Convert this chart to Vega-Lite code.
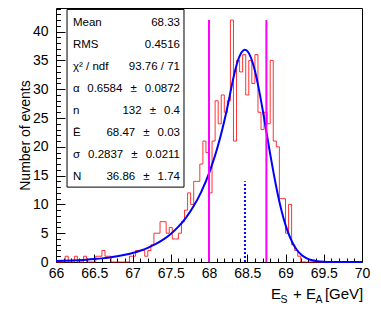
{
  "$schema": "https://vega.github.io/schema/vega-lite/v6.json",
  "width": 306,
  "height": 254,
  "autosize": {"type": "none"},
  "padding": {"left": 56, "top": 8, "right": 19, "bottom": 58},
  "background": "white",
  "config": {
    "view": {"stroke": "black", "strokeWidth": 1},
    "font": "Liberation Sans",
    "axis": {"grid": false, "zindex": 1, "domain": false, "tickColor": "black", "tickWidth": 1, "labelColor": "black", "titleColor": "black", "labelFont": "Liberation Sans", "titleFont": "Liberation Sans", "labelFontSize": 14, "titleFontSize": 14, "titleFontWeight": "normal"}
  },
  "datasets": {
    "hist": [
      {"x": 66.00, "n": 0}, {"x": 66.04, "n": 0}, {"x": 66.08, "n": 0}, {"x": 66.12, "n": 1}, {"x": 66.16, "n": 0},
      {"x": 66.20, "n": 0}, {"x": 66.24, "n": 1}, {"x": 66.28, "n": 0}, {"x": 66.32, "n": 0}, {"x": 66.36, "n": 1},
      {"x": 66.40, "n": 0}, {"x": 66.44, "n": 0}, {"x": 66.48, "n": 0}, {"x": 66.52, "n": 1}, {"x": 66.56, "n": 1},
      {"x": 66.60, "n": 2}, {"x": 66.64, "n": 1}, {"x": 66.68, "n": 1}, {"x": 66.72, "n": 0}, {"x": 66.76, "n": 0},
      {"x": 66.80, "n": 0}, {"x": 66.84, "n": 0}, {"x": 66.88, "n": 0}, {"x": 66.92, "n": 0}, {"x": 66.96, "n": 1},
      {"x": 67.00, "n": 1}, {"x": 67.04, "n": 2}, {"x": 67.08, "n": 2}, {"x": 67.12, "n": 2}, {"x": 67.16, "n": 1},
      {"x": 67.20, "n": 2}, {"x": 67.24, "n": 3}, {"x": 67.28, "n": 5}, {"x": 67.32, "n": 5}, {"x": 67.36, "n": 7},
      {"x": 67.40, "n": 7}, {"x": 67.44, "n": 5}, {"x": 67.48, "n": 6}, {"x": 67.52, "n": 4}, {"x": 67.56, "n": 4},
      {"x": 67.60, "n": 5}, {"x": 67.64, "n": 7}, {"x": 67.68, "n": 9}, {"x": 67.72, "n": 12}, {"x": 67.76, "n": 10},
      {"x": 67.80, "n": 14}, {"x": 67.84, "n": 14}, {"x": 67.88, "n": 17}, {"x": 67.92, "n": 21}, {"x": 67.96, "n": 19},
      {"x": 68.00, "n": 12}, {"x": 68.04, "n": 21}, {"x": 68.08, "n": 28}, {"x": 68.12, "n": 24}, {"x": 68.16, "n": 29},
      {"x": 68.20, "n": 26}, {"x": 68.24, "n": 28}, {"x": 68.28, "n": 42}, {"x": 68.32, "n": 21}, {"x": 68.36, "n": 35},
      {"x": 68.40, "n": 33}, {"x": 68.44, "n": 36}, {"x": 68.48, "n": 29}, {"x": 68.52, "n": 35}, {"x": 68.56, "n": 31},
      {"x": 68.60, "n": 36}, {"x": 68.64, "n": 26}, {"x": 68.68, "n": 23}, {"x": 68.72, "n": 26}, {"x": 68.76, "n": 24},
      {"x": 68.80, "n": 35}, {"x": 68.84, "n": 21}, {"x": 68.88, "n": 20}, {"x": 68.92, "n": 11}, {"x": 68.96, "n": 11},
      {"x": 69.00, "n": 5}, {"x": 69.04, "n": 10}, {"x": 69.08, "n": 3}, {"x": 69.12, "n": 2}, {"x": 69.16, "n": 1},
      {"x": 69.20, "n": 0}, {"x": 69.24, "n": 0}, {"x": 69.28, "n": 0}, {"x": 69.32, "n": 0}, {"x": 69.36, "n": 0},
      {"x": 69.40, "n": 0}, {"x": 69.44, "n": 0}, {"x": 69.48, "n": 0}, {"x": 69.52, "n": 0}, {"x": 69.56, "n": 0},
      {"x": 69.60, "n": 0}, {"x": 69.64, "n": 0}, {"x": 69.68, "n": 0}, {"x": 69.72, "n": 0}, {"x": 69.76, "n": 0},
      {"x": 69.80, "n": 0}, {"x": 69.84, "n": 0}, {"x": 69.88, "n": 0}, {"x": 69.92, "n": 0}, {"x": 69.96, "n": 0},
      {"x": 70.00, "n": 0}
    ],
    "fit": [
      {"x": 66.0, "f": 0.164}, {"x": 66.1, "f": 0.206}, {"x": 66.2, "f": 0.257}, {"x": 66.3, "f": 0.322}, {"x": 66.4, "f": 0.40},
      {"x": 66.5, "f": 0.505}, {"x": 66.6, "f": 0.63}, {"x": 66.7, "f": 0.79}, {"x": 66.8, "f": 0.99}, {"x": 66.9, "f": 1.244},
      {"x": 67.0, "f": 1.56}, {"x": 67.1, "f": 1.96}, {"x": 67.2, "f": 2.46}, {"x": 67.3, "f": 3.09}, {"x": 67.4, "f": 3.88},
      {"x": 67.5, "f": 4.88}, {"x": 67.6, "f": 6.14}, {"x": 67.7, "f": 7.72}, {"x": 67.8, "f": 9.71}, {"x": 67.9, "f": 12.23},
      {"x": 68.0, "f": 15.40}, {"x": 68.05, "f": 17.29}, {"x": 68.1, "f": 19.41}, {"x": 68.15, "f": 21.79}, {"x": 68.2, "f": 24.47},
      {"x": 68.25, "f": 27.48}, {"x": 68.283, "f": 29.68}, {"x": 68.3, "f": 30.80}, {"x": 68.35, "f": 33.70}, {"x": 68.4, "f": 35.76},
      {"x": 68.45, "f": 36.77}, {"x": 68.47, "f": 36.86}, {"x": 68.5, "f": 36.65}, {"x": 68.55, "f": 35.42}, {"x": 68.6, "f": 33.19},
      {"x": 68.65, "f": 30.14}, {"x": 68.7, "f": 26.54}, {"x": 68.75, "f": 22.65}, {"x": 68.8, "f": 18.74}, {"x": 68.85, "f": 15.03},
      {"x": 68.9, "f": 11.69}, {"x": 68.95, "f": 8.81}, {"x": 69.0, "f": 6.44}, {"x": 69.05, "f": 4.56}, {"x": 69.1, "f": 3.13},
      {"x": 69.15, "f": 2.08}, {"x": 69.2, "f": 1.345}, {"x": 69.25, "f": 0.841}, {"x": 69.3, "f": 0.510}, {"x": 69.35, "f": 0.300},
      {"x": 69.4, "f": 0.171}, {"x": 69.45, "f": 0.095}, {"x": 69.5, "f": 0.051}, {"x": 69.6, "f": 0.013}, {"x": 69.7, "f": 0.003},
      {"x": 69.8, "f": 0.0005}, {"x": 70.0, "f": 0}
    ],
    "window": [{"x": 68.0}, {"x": 68.75}],
    "stats": [
      {"row": 0, "label": "Mean", "val": "68.33"},
      {"row": 1, "label": "RMS", "val": "0.4516"},
      {"row": 2, "label": "χ² / ndf", "val": "93.76 / 71"},
      {"row": 3, "label": "α", "val": "0.6584\u2002\u2009±\u2002\u20090.0872"},
      {"row": 4, "label": "n", "val": "132\u2002\u2009±\u2002\u20090.4"},
      {"row": 5, "label": "Ē", "val": "68.47\u2002\u2009±\u2002\u20090.03"},
      {"row": 6, "label": "σ", "val": "0.2837\u2002\u2009±\u2002\u20090.0211"},
      {"row": 7, "label": "N", "val": "36.86\u2002\u2009±\u2002\u20091.74"}
    ]
  },
  "layer": [
    {
      "resolve": {"axis": {"x": "independent", "y": "independent"}},
      "layer": [
        {
          "data": {"name": "hist"},
          "mark": {"type": "line", "interpolate": "step-after", "color": "#ff0000", "strokeWidth": 1, "opacity": 0.8},
          "encoding": {
            "x": {"field": "x", "type": "quantitative", "scale": {"domain": [66, 70], "nice": false, "zero": false},
              "axis": {"title": null, "orient": "bottom", "values": [66, 66.5, 67, 67.5, 68, 68.5, 69, 69.5, 70],
                "format": ".1~f", "offset": -8, "tickSize": 8, "labelPadding": 4, "labelFlush": false, "labelOverlap": false}},
            "y": {"field": "n", "type": "quantitative", "scale": {"domain": [0, 44.1], "nice": false, "zero": true},
              "axis": {"title": "Number of events", "orient": "left", "values": [0, 5, 10, 15, 20, 25, 30, 35, 40],
                "offset": -9, "tickSize": 9, "labelPadding": 8, "titlePadding": 0, "labelOverlap": false, "labelFlush": false}}
          }
        },
        {
          "data": {"name": "fit"},
          "mark": {"type": "line", "color": "#0000ff", "strokeWidth": 2, "interpolate": "monotone"},
          "encoding": {
            "x": {"field": "x", "type": "quantitative",
              "axis": {"title": null, "orient": "bottom", "labels": false, "offset": -4, "tickSize": 4,
                "values": [66.1,66.2,66.3,66.4,66.6,66.7,66.8,66.9,67.1,67.2,67.3,67.4,67.6,67.7,67.8,67.9,68.1,68.2,68.3,68.4,68.6,68.7,68.8,68.9,69.1,69.2,69.3,69.4,69.6,69.7,69.8,69.9]}},
            "y": {"field": "f", "type": "quantitative",
              "axis": {"title": null, "orient": "left", "labels": false, "offset": -4.5, "tickSize": 4.5,
                "values": [1,2,3,4,6,7,8,9,11,12,13,14,16,17,18,19,21,22,23,24,26,27,28,29,31,32,33,34,36,37,38,39,41,42,43,44]}}
          }
        },
        {
          "data": {"name": "window"},
          "mark": {"type": "rule", "color": "#ff00ff", "strokeWidth": 2},
          "encoding": {"x": {"field": "x", "type": "quantitative", "axis": null}, "y": {"datum": 0, "axis": null}, "y2": {"datum": 42}}
        },
        {
          "data": {"values": [{"x": 68.47}]},
          "mark": {"type": "rule", "color": "#0000ff", "strokeWidth": 2, "strokeDash": [2, 2]},
          "encoding": {"x": {"field": "x", "type": "quantitative", "axis": null}, "y": {"datum": 0, "axis": null}, "y2": {"datum": 14}}
        },
        {
          "data": {"values": [{}]},
          "mark": {"type": "rect", "fill": "white", "stroke": "black", "strokeWidth": 1},
          "encoding": {"x": {"datum": 66.144, "axis": null}, "x2": {"datum": 67.673}, "y": {"datum": 43.85, "axis": null}, "y2": {"datum": 13.0}}
        },
        {
          "data": {"values": [{"t": "E"}]},
          "mark": {"type": "text", "align": "left", "baseline": "alphabetic", "fontSize": 15, "font": "Liberation Sans", "color": "black"},
          "encoding": {"x": {"datum": 68.81, "axis": null}, "y": {"datum": -6.42, "axis": null}, "text": {"field": "t"}}
        },
        {
          "data": {"values": [{"t": "S"}]},
          "mark": {"type": "text", "align": "left", "baseline": "alphabetic", "fontSize": 10.5, "font": "Liberation Sans", "color": "black"},
          "encoding": {"x": {"datum": 68.935, "axis": null}, "y": {"datum": -7.1, "axis": null}, "text": {"field": "t"}}
        },
        {
          "data": {"values": [{"t": "+ E"}]},
          "mark": {"type": "text", "align": "left", "baseline": "alphabetic", "fontSize": 15, "font": "Liberation Sans", "color": "black"},
          "encoding": {"x": {"datum": 69.098, "axis": null}, "y": {"datum": -6.42, "axis": null}, "text": {"field": "t"}}
        },
        {
          "data": {"values": [{"t": "A"}]},
          "mark": {"type": "text", "align": "left", "baseline": "alphabetic", "fontSize": 10.5, "font": "Liberation Sans", "color": "black"},
          "encoding": {"x": {"datum": 69.392, "axis": null}, "y": {"datum": -7.1, "axis": null}, "text": {"field": "t"}}
        },
        {
          "data": {"values": [{"t": "[GeV]"}]},
          "mark": {"type": "text", "align": "left", "baseline": "alphabetic", "fontSize": 15, "font": "Liberation Sans", "color": "black"},
          "encoding": {"x": {"datum": 69.515, "axis": null}, "y": {"datum": -6.42, "axis": null}, "text": {"field": "t"}}
        }
      ]
    },
    {
      "data": {"name": "stats"},
      "layer": [
        {
          "mark": {"type": "text", "align": "left", "baseline": "middle", "fontSize": 11.5, "font": "Liberation Sans", "color": "black"},
          "encoding": {
            "x": {"datum": 66.222, "axis": null},
            "y": {"field": "row", "type": "quantitative", "scale": {"domain": [-0.667, 10.852], "reverse": true, "nice": false, "zero": false}, "axis": null},
            "text": {"field": "label"}
          }
        },
        {
          "mark": {"type": "text", "align": "right", "baseline": "middle", "fontSize": 11.5, "font": "Liberation Sans", "color": "black"},
          "encoding": {
            "x": {"datum": 67.621, "axis": null},
            "y": {"field": "row", "type": "quantitative", "axis": null},
            "text": {"field": "val"}
          }
        }
      ]
    }
  ],
  "resolve": {"scale": {"y": "independent"}}
}
